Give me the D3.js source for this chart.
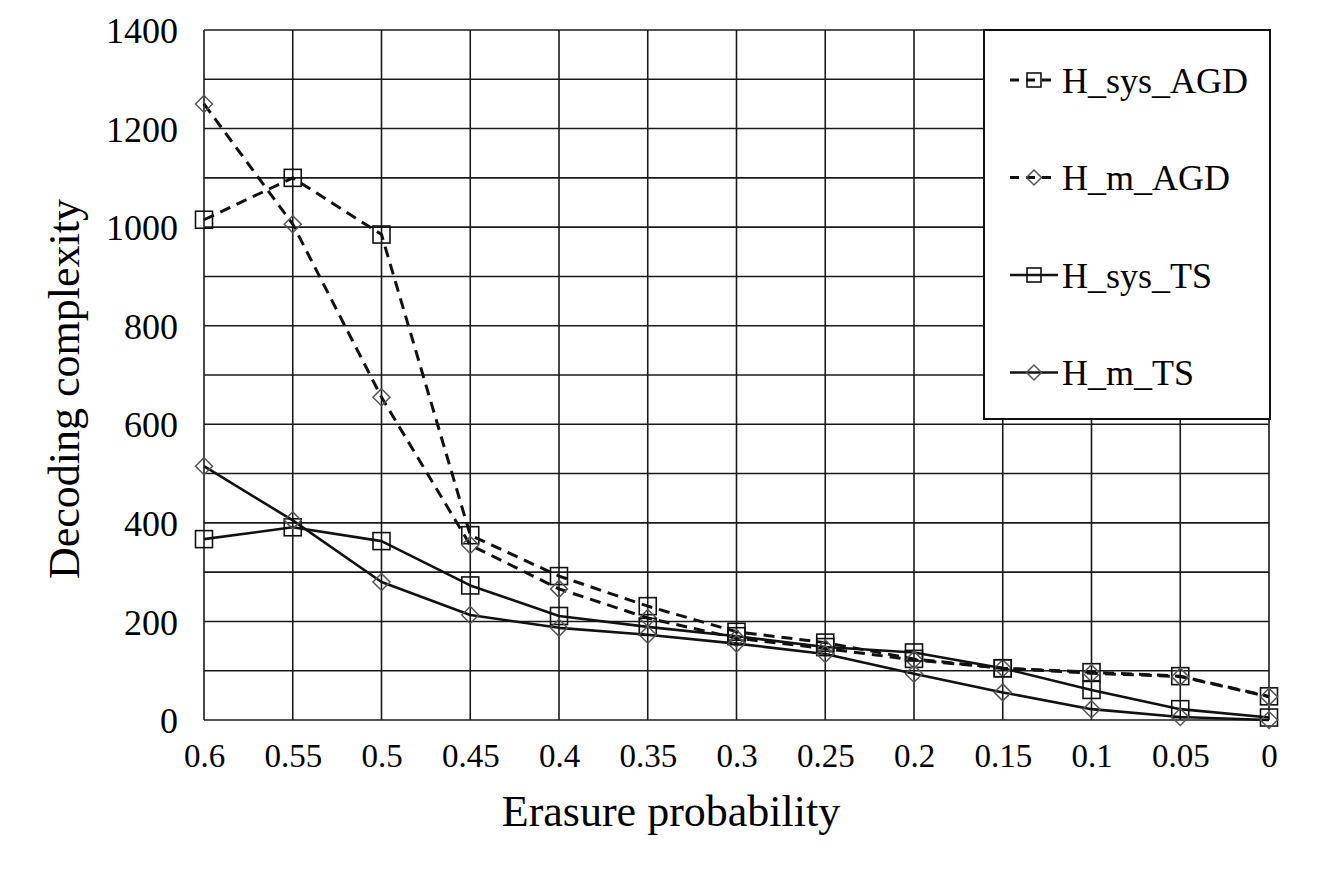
<!DOCTYPE html>
<html>
<head>
<meta charset="UTF-8">
<title>Decoding complexity</title>
<style>
  body { margin: 0; background: #fff; }
  svg { display: block; }
  text { font-family: "Liberation Serif", "Times New Roman", serif; fill: #000; }
</style>
</head>
<body>
<svg></svg>
<script src="https://d3js.org/d3.v7.min.js"></script>
<script>

let width = 1333, height = 869;

// data
let probs = [0.6, 0.55, 0.5, 0.45, 0.4, 0.35, 0.3, 0.25, 0.2, 0.15, 0.1, 0.05, 0];
let probLabels = ["0.6", "0.55", "0.5", "0.45", "0.4", "0.35", "0.3", "0.25", "0.2", "0.15", "0.1", "0.05", "0"];
let hSysAGD = [1015, 1100, 985, 375, 292, 231, 179, 157, 124, 105, 97, 89, 48];
let hMAGD   = [1250, 1006, 655, 355, 266, 207, 166, 145, 122, 105, 95, 88, 47];
let hSysTS  = [367, 391, 363, 273, 211, 189, 170, 148, 137, 105, 61, 22, 5];
let hMTS    = [515, 405, 280, 213, 187, 173, 155, 134, 94, 56, 22, 6, 0];
let yTicks = [0, 200, 400, 600, 800, 1000, 1200, 1400];
let yGrid = d3.range(0, 1401, 100);

let series = [
  {name: "H_sys_AGD", values: hSysAGD, dashed: true,  marker: "square"},
  {name: "H_m_AGD",   values: hMAGD,   dashed: true,  marker: "diamond"},
  {name: "H_sys_TS",  values: hSysTS,  dashed: false, marker: "square"},
  {name: "H_m_TS",    values: hMTS,    dashed: false, marker: "diamond"}
];

let plotLeft = 204, plotRight = 1269, plotTop = 30, plotBottom = 720;

let svg = d3.select("svg")
  .attr("width", width)
  .attr("height", height);

let x = d3.scaleLinear().domain([0.6, 0]).range([plotLeft, plotRight]);
let y = d3.scaleLinear().domain([0, 1400]).range([plotBottom, plotTop]);

// grid
let grid = svg.append("g").attr("stroke", "#1a1a1a").attr("stroke-width", 1.6);
grid.selectAll("line.h")
  .data(yGrid)
  .enter().append("line")
    .attr("class", "h")
    .attr("x1", plotLeft).attr("x2", plotRight)
    .attr("y1", d => y(d)).attr("y2", d => y(d));
grid.selectAll("line.v")
  .data(probs)
  .enter().append("line")
    .attr("class", "v")
    .attr("x1", d => x(d)).attr("x2", d => x(d))
    .attr("y1", plotTop).attr("y2", plotBottom);

// axes
let yAxis = d3.axisLeft(y).tickValues(yTicks).tickSize(0).tickPadding(26).tickFormat(d3.format("d"));
let gy = svg.append("g").attr("transform", "translate(" + plotLeft + ",0)").call(yAxis);
gy.select(".domain").remove();
gy.selectAll("text").style("font-size", "36px").style("font-family", "Liberation Serif").attr("dy", "0.35em");

let xAxis = d3.axisBottom(x).tickValues(probs).tickSize(0).tickPadding(24)
  .tickFormat((d, i) => probLabels[i]);
let gx = svg.append("g").attr("transform", "translate(0," + plotBottom + ")").call(xAxis);
gx.select(".domain").remove();
gx.selectAll("text").style("font-size", "33px").style("font-family", "Liberation Serif");

svg.append("text")
  .attr("x", 671)
  .attr("y", 826)
  .attr("text-anchor", "middle")
  .style("font-size", "44px")
  .text("Erasure probability");

svg.append("text")
  .attr("transform", "translate(79," + 389 + ") rotate(-90)")
  .attr("text-anchor", "middle")
  .style("font-size", "44px")
  .text("Decoding complexity");

// markers
function drawMarker(g, type, cx, cy, size) {
  if (type === "square") {
    g.append("rect")
      .attr("x", cx - size / 2).attr("y", cy - size / 2)
      .attr("width", size).attr("height", size)
      .attr("fill", "none").attr("stroke", "#111").attr("stroke-width", 1.6);
  } else {
    let r = size / 2;
    g.append("path")
      .attr("d", "M" + cx + "," + (cy - r) + " L" + (cx + r) + "," + cy + " L" + cx + "," + (cy + r) + " L" + (cx - r) + "," + cy + " Z")
      .attr("fill", "none").attr("stroke", "#555").attr("stroke-width", 1.5);
  }
}

let line = d3.line().x((d, i) => x(probs[i])).y(d => y(d));

let lines = svg.append("g");
series.forEach(s => {
  lines.append("path")
    .attr("d", line(s.values))
    .attr("fill", "none")
    .attr("stroke", "#111")
    .attr("stroke-width", s.dashed ? 3 : 2.6)
    .attr("stroke-linejoin", "round")
    .attr("stroke-dasharray", s.dashed ? "11,7" : null);
});

let marks = svg.append("g");
series.forEach(s => {
  s.values.forEach((v, i) => {
    drawMarker(marks, s.marker, x(probs[i]), y(v), 17);
  });
});

// legend
let legend = svg.append("g");
legend.append("rect")
  .attr("x", 984).attr("y", 30)
  .attr("width", 286).attr("height", 389)
  .attr("fill", "#fff").attr("stroke", "#111").attr("stroke-width", 2);

series.forEach((s, i) => {
  let ly = 80 + i * 97.5;
  let g = legend.append("g");
  g.append("line")
    .attr("x1", 1010).attr("x2", 1058)
    .attr("y1", ly).attr("y2", ly)
    .attr("stroke", "#111")
    .attr("stroke-width", s.dashed ? 3 : 2.6)
    .attr("stroke-dasharray", s.dashed ? "9,7" : null);
  drawMarker(g, s.marker, 1034, ly, s.marker === "square" ? 14 : 15);
  g.append("text")
    .attr("x", 1062).attr("y", ly)
    .attr("dy", "0.35em")
    .style("font-size", "36px")
    .text(s.name);
});

</script>
</body>
</html>
